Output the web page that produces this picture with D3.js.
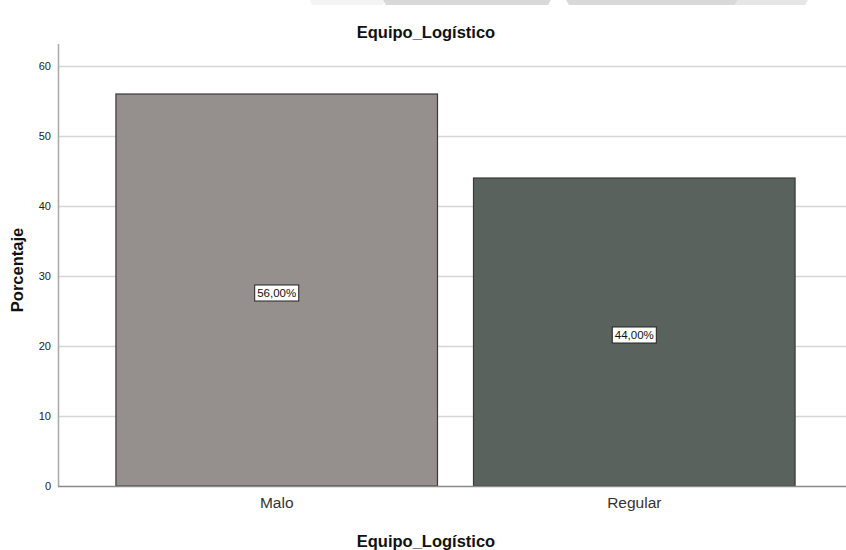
<!DOCTYPE html>
<html>
<head>
<meta charset="utf-8">
<script src="https://cdn.jsdelivr.net/npm/d3@7"></script>
<style>
  html, body { margin: 0; padding: 0; background: #fff; }
  svg { display: block; font-family: "Liberation Sans", Arial, sans-serif; }
</style>
</head>
<body>
<svg id="chart" width="846" height="550"></svg>
<script>
// Category data
const categories = ["Malo", "Regular"];
const percentages = [56.0, 44.0];
const barColors = ["#958f8d", "#59625c"];
const yTicks = [0, 10, 20, 30, 40, 50, 60];
const chartTitle = "Equipo_Logístico";
const yTitle = "Porcentaje";
const xTitle = "Equipo_Logístico";

const svg = d3.select("#chart");
const plot = { left: 58, right: 846, top: 44, bottom: 486 };

// Faint header band at the very top of the page
const band = svg.append("g");
band.append("polygon").attr("points", "310,0 385,0 383,5 312,5").attr("fill", "#f4f4f4");
band.append("polygon").attr("points", "383,0 551,0 548,5 386,5").attr("fill", "#d9d9d9");
band.append("polygon").attr("points", "566,0 738,0 735,5 569,5").attr("fill", "#d9d9d9");
band.append("polygon").attr("points", "738,0 808,0 805,5 735,5").attr("fill", "#e6e6e6");

const y = d3.scaleLinear().domain([0, 60]).range([plot.bottom, 66]);
const x = d3.scaleBand()
  .domain(categories)
  .range([58, 853])
  .paddingInner(0.1007)
  .paddingOuter(0.162);

// Gridlines
svg.append("g")
  .selectAll("line")
  .data(yTicks.filter(d => d > 0))
  .join("line")
  .attr("x1", plot.left).attr("x2", plot.right)
  .attr("y1", d => Math.round(y(d)) + 0.5).attr("y2", d => Math.round(y(d)) + 0.5)
  .attr("stroke", "#d6d6d6").attr("stroke-width", 1.5);

// Bars
const data = categories.map((c, i) => ({ cat: c, val: percentages[i], color: barColors[i] }));
svg.append("g")
  .selectAll("rect")
  .data(data)
  .join("rect")
  .attr("x", d => x(d.cat))
  .attr("y", d => y(d.val))
  .attr("width", x.bandwidth())
  .attr("height", d => y(0) - y(d.val))
  .attr("fill", d => d.color)
  .attr("stroke", "#3a3a3a")
  .attr("stroke-width", 1.2);

// Y axis
const yAxis = d3.axisLeft(y).tickValues(yTicks).tickSize(0).tickPadding(7);
const gy = svg.append("g").attr("transform", `translate(${plot.left},0)`).call(yAxis);
gy.select(".domain").remove();
gy.selectAll("text").attr("font-size", 11).attr("fill", "#222")
  .attr("font-family", "Liberation Sans, Arial, sans-serif");
svg.append("line")
  .attr("x1", plot.left + 0.5).attr("x2", plot.left + 0.5)
  .attr("y1", plot.top).attr("y2", plot.bottom)
  .attr("stroke", "#a8a8a8").attr("stroke-width", 1.5);

// X axis
const xAxis = d3.axisBottom(x).tickSize(0).tickPadding(11);
const gx = svg.append("g").attr("transform", `translate(0,${plot.bottom})`).call(xAxis);
gx.select(".domain").remove();
gx.selectAll("text").attr("font-size", 15.5).attr("fill", "#333")
  .attr("font-family", "Liberation Sans, Arial, sans-serif");
svg.append("line")
  .attr("x1", plot.left).attr("x2", plot.right)
  .attr("y1", plot.bottom + 0.5).attr("y2", plot.bottom + 0.5)
  .attr("stroke", "#8a8a8a").attr("stroke-width", 1.5);

// Value labels in boxes at bar centres
const labels = svg.append("g").selectAll("g").data(data).join("g")
  .attr("transform", d => `translate(${x(d.cat) + x.bandwidth() / 2},${(y(d.val) + y(0)) / 2 + 3})`);
labels.each(function(d) {
  const g = d3.select(this);
  const t = g.append("text")
    .attr("text-anchor", "middle").attr("dominant-baseline", "central")
    .attr("font-size", 11.5).attr("fill", "#111")
    .text(d.val.toFixed(2).replace(".", ",") + "%");
  const bb = t.node().getBBox();
  g.insert("rect", "text")
    .attr("x", bb.x - 2.5).attr("y", bb.y - 2)
    .attr("width", bb.width + 5).attr("height", bb.height + 4)
    .attr("fill", "#fff").attr("stroke", "#222").attr("stroke-width", 1);
});

// Titles
svg.append("text").attr("x", 426).attr("y", 38).attr("text-anchor", "middle")
  .attr("font-size", 16.5).attr("font-weight", "bold").attr("fill", "#111").text(chartTitle);
svg.append("text").attr("x", 426).attr("y", 547).attr("text-anchor", "middle")
  .attr("font-size", 16.5).attr("font-weight", "bold").attr("fill", "#111").text(xTitle);
svg.append("text").attr("transform", "translate(23,270) rotate(-90)").attr("text-anchor", "middle")
  .attr("font-size", 16.5).attr("font-weight", "bold").attr("fill", "#111").text(yTitle);
</script>
</body>
</html>
